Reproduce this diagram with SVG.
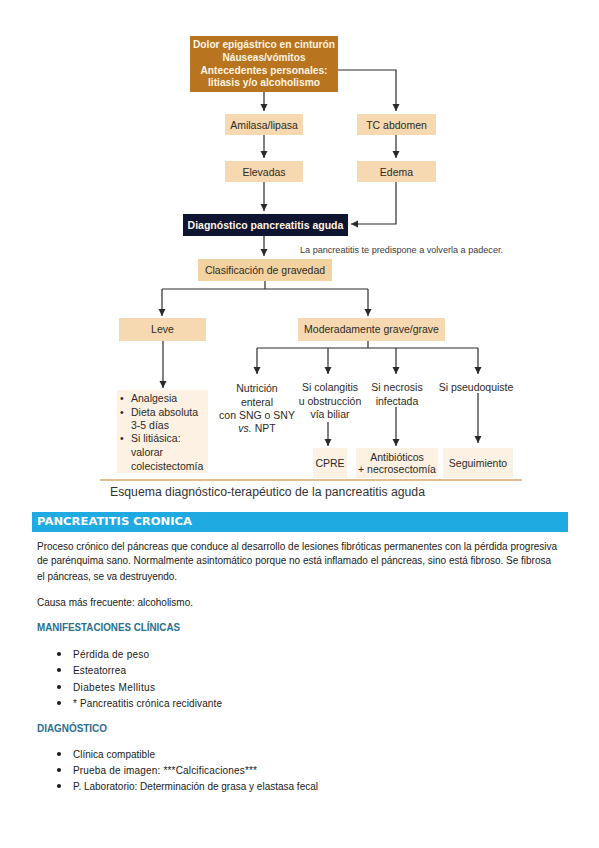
<svg xmlns="http://www.w3.org/2000/svg" width="599" height="848" viewBox="0 0 599 848">
<defs>
<marker id="ah" markerWidth="8" markerHeight="8" refX="7" refY="3.5" orient="auto" markerUnits="userSpaceOnUse">
<path d="M0,0 L7,3.5 L0,7 z" fill="#2a2a2a"/>
</marker>
<style>
.fc{font-family:"Liberation Sans",Arial,sans-serif;font-size:10.5px;fill:#2e2a26;text-anchor:middle}
.wt{font-family:"Liberation Sans",Arial,sans-serif;font-size:10.5px;font-weight:bold;fill:#fff4e4;text-anchor:middle}
.box{fill:#f6d9b0}
.lbox{fill:#fcf1e3}
.con{fill:none;stroke:#2a2a2a;stroke-width:1.2}
.arr{fill:none;stroke:#2a2a2a;stroke-width:1.2;marker-end:url(#ah)}
.body{font-family:"Liberation Sans",Arial,sans-serif;font-size:10px;fill:#1a1a1a}
.head{font-family:"Liberation Sans",Arial,sans-serif;font-size:10px;font-weight:bold;fill:#2a6f8e}
</style>
</defs>
<rect width="599" height="848" fill="#ffffff"/>

<g id="connectors">
<path class="arr" d="M264,92 V111"/>
<path class="arr" d="M338,70 H396 V111"/>
<path class="arr" d="M264,135 V158"/>
<path class="arr" d="M396,135 V158"/>
<path class="arr" d="M264,182 V211"/>
<path class="arr" d="M396,182 V224 H351"/>
<path class="arr" d="M264,236 V256"/>
<path class="con" d="M265,281 V289 M162,289 H368"/>
<path class="arr" d="M162,289 V316"/>
<path class="arr" d="M368,289 V316"/>
<path class="arr" d="M163,341 V388"/>
<path class="con" d="M368,341 V348 M257,348 H478"/>
<path class="arr" d="M257,348 V374"/>
<path class="arr" d="M328,348 V374"/>
<path class="arr" d="M396,348 V374"/>
<path class="arr" d="M478,348 V374"/>
<path class="arr" d="M328,422 V446"/>
<path class="arr" d="M396,407 V446"/>
<path class="arr" d="M478,393 V443"/>
</g>

<g id="n-sintomas">
<rect x="190" y="36" width="148" height="56" fill="#b8741e"/>
<text class="wt" x="264" y="48" textLength="142" lengthAdjust="spacingAndGlyphs">Dolor epigástrico en cinturón</text>
<text class="wt" x="264" y="61" textLength="83" lengthAdjust="spacingAndGlyphs">Náuseas/vómitos</text>
<text class="wt" x="264" y="74" textLength="127" lengthAdjust="spacingAndGlyphs">Antecedentes personales:</text>
<text class="wt" x="264" y="86" textLength="112" lengthAdjust="spacingAndGlyphs">litiasis y/o alcoholismo</text>
</g>
<g id="n-amilasa"><rect class="box" x="225" y="114" width="78" height="21"/><text class="fc" x="264" y="128.5">Amilasa/lipasa</text></g>
<g id="n-tc"><rect class="box" x="357" y="114" width="79" height="21"/><text class="fc" x="396.5" y="128.5">TC abdomen</text></g>
<g id="n-elevadas"><rect class="box" x="225" y="161" width="78" height="21"/><text class="fc" x="264" y="175.5">Elevadas</text></g>
<g id="n-edema"><rect class="box" x="357" y="161" width="79" height="21"/><text class="fc" x="396.5" y="175.5">Edema</text></g>
<g id="n-diag"><rect x="183" y="214" width="165" height="22" fill="#0f1530"/><text class="wt" x="265.5" y="229" fill="#ffffff">Diagnóstico pancreatitis aguda</text></g>
<text x="300" y="253" font-family="Liberation Sans, Arial, sans-serif" font-size="8.5px" fill="#3a3a3a" textLength="203" lengthAdjust="spacingAndGlyphs">La pancreatitis te predispone a volverla a padecer.</text>
<g id="n-clasif"><rect x="198" y="259" width="134" height="22" fill="#f3d29f"/><text class="fc" x="265" y="274">Clasificación de gravedad</text></g>
<g id="n-leve"><rect class="box" x="119" y="318" width="87" height="23"/><text class="fc" x="162.5" y="333">Leve</text></g>
<g id="n-mod"><rect class="box" x="298" y="318" width="147" height="23"/><text class="fc" x="371.5" y="333">Moderadamente grave/grave</text></g>
<g id="n-leve-list">
<rect class="lbox" x="117" y="390" width="91" height="83"/>
<g font-family="Liberation Sans, Arial, sans-serif" font-size="10.5px" fill="#2e2a26">
<text x="120" y="402">•</text><text x="131" y="402">Analgesia</text>
<text x="120" y="416">•</text><text x="131" y="416">Dieta absoluta</text>
<text x="131" y="429">3-5 días</text>
<text x="120" y="442">•</text><text x="131" y="442">Si litiásica:</text>
<text x="131" y="456">valorar</text>
<text x="131" y="470">colecistectomía</text>
</g>
</g>
<g id="n-nutricion">
<text class="fc" x="257" y="392">Nutrición</text>
<text class="fc" x="257" y="406">enteral</text>
<text class="fc" x="257" y="419">con SNG o SNY</text>
<text class="fc" x="257" y="432"><tspan font-style="italic">vs.</tspan> NPT</text>
</g>
<g id="n-colangitis">
<text class="fc" x="330" y="391">Si colangitis</text>
<text class="fc" x="330" y="405">u obstrucción</text>
<text class="fc" x="330" y="418">vía biliar</text>
</g>
<g id="n-necrosis">
<text class="fc" x="397" y="391">Si necrosis</text>
<text class="fc" x="397" y="405">infectada</text>
</g>
<g id="n-pseudo"><text class="fc" x="476" y="391">Si pseudoquiste</text></g>
<g id="n-cpre"><rect class="lbox" x="313" y="448" width="34" height="30"/><text class="fc" x="330" y="467">CPRE</text></g>
<g id="n-antib"><rect class="lbox" x="356" y="448" width="82" height="30"/><text class="fc" x="397" y="461">Antibióticos</text><text class="fc" x="397" y="473">+ necrosectomía</text></g>
<g id="n-seguim"><rect class="lbox" x="443" y="448" width="70" height="30"/><text class="fc" x="478" y="467">Seguimiento</text></g>

<line x1="100" y1="480" x2="522" y2="480" stroke="#d9a46a" stroke-width="1.5"/>
<text x="110" y="496" font-family="Liberation Sans, Arial, sans-serif" font-size="12.5px" fill="#333333" textLength="315" lengthAdjust="spacingAndGlyphs">Esquema diagnóstico-terapéutico de la pancreatitis aguda</text>

<rect x="32" y="512" width="536" height="20" fill="#1faae2"/>
<text x="37" y="525" font-family="DejaVu Sans, sans-serif" font-size="11px" font-weight="bold" fill="#ffffff" textLength="155" lengthAdjust="spacingAndGlyphs">PANCREATITIS CRONICA</text>

<text class="body" x="37" y="550" textLength="520" lengthAdjust="spacing">Proceso crónico del páncreas que conduce al desarrollo de lesiones fibróticas permanentes con la pérdida progresiva</text>
<text class="body" x="37" y="564" textLength="514" lengthAdjust="spacing">de parénquima sano. Normalmente asintomático porque no está inflamado el páncreas, sino está fibroso. Se fibrosa</text>
<text class="body" x="37" y="580" textLength="140" lengthAdjust="spacing">el páncreas, se va destruyendo.</text>
<text class="body" x="37" y="606" textLength="156" lengthAdjust="spacing">Causa más frecuente: alcoholismo.</text>

<text class="head" x="37" y="631" textLength="143" lengthAdjust="spacingAndGlyphs">MANIFESTACIONES CLÍNICAS</text>
<g id="list-manif">
<circle cx="59" cy="654" r="2" fill="#1a1a1a"/><text class="body" x="73" y="657.5" textLength="76" lengthAdjust="spacing">Pérdida de peso</text>
<circle cx="59" cy="670" r="2" fill="#1a1a1a"/><text class="body" x="73" y="673.5" textLength="53" lengthAdjust="spacing">Esteatorrea</text>
<circle cx="59" cy="687" r="2" fill="#1a1a1a"/><text class="body" x="73" y="690.5" textLength="82" lengthAdjust="spacing">Diabetes Mellitus</text>
<circle cx="59" cy="703" r="2" fill="#1a1a1a"/><text class="body" x="73" y="706.5" textLength="149" lengthAdjust="spacing">* Pancreatitis crónica recidivante</text>
</g>
<text class="head" x="37" y="732" textLength="70" lengthAdjust="spacingAndGlyphs">DIAGNÓSTICO</text>
<g id="list-diag">
<circle cx="59" cy="754" r="2" fill="#1a1a1a"/><text class="body" x="73" y="757.5" textLength="82" lengthAdjust="spacing">Clínica compatible</text>
<circle cx="59" cy="770" r="2" fill="#1a1a1a"/><text class="body" x="73" y="773.5" textLength="184" lengthAdjust="spacing">Prueba de imagen: ***Calcificaciones***</text>
<circle cx="59" cy="786" r="2" fill="#1a1a1a"/><text class="body" x="73" y="789.5" textLength="245" lengthAdjust="spacing">P. Laboratorio: Determinación de grasa y elastasa fecal</text>
</g>
</svg>
